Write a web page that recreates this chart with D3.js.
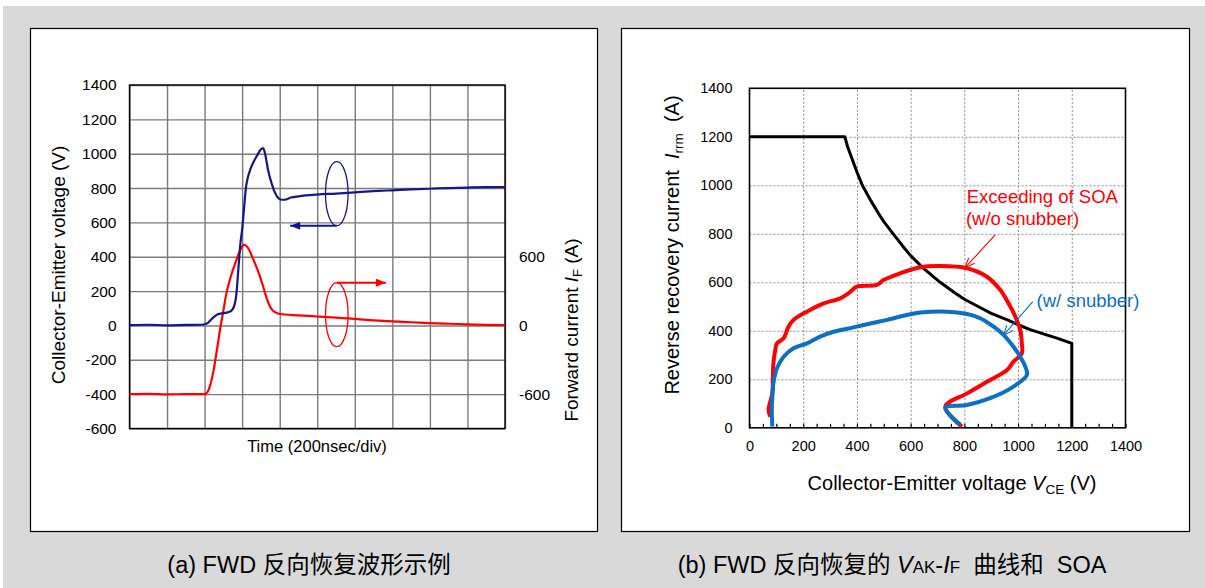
<!DOCTYPE html>
<html lang="zh">
<head>
<meta charset="UTF-8">
<title>FWD reverse recovery</title>
<script src="https://d3js.org/d3.v7.min.js"></script>
<style>
  body { margin: 0; background: #fff; }
  svg text { font-family: "Liberation Sans", Arial, "Noto Sans CJK SC", sans-serif; fill: #000; }
</style>
</head>
<body>
<div id="chart"></div>
<script>
// (a) waveforms, time in divisions (200 ns/div)
const vceTime = [0, 0.5, 1.0, 1.5, 1.9, 2.05, 2.2, 2.35, 2.5, 2.65, 2.75, 2.84, 2.9, 2.95, 3.0, 3.05, 3.1, 3.15, 3.22, 3.3, 3.4, 3.5, 3.56, 3.62, 3.69, 3.78, 3.87, 3.95, 4.05, 4.15, 4.3, 4.5, 4.7, 5.0, 5.5, 6.0, 6.5, 7.0, 7.5, 8.0, 8.5, 9.0, 9.5, 10];
const vceVolt = [2, 4, 1, 3, 4, 10, 40, 65, 72, 78, 95, 170, 330, 470, 560, 680, 800, 860, 910, 950, 990, 1025, 1032, 990, 905, 830, 775, 745, 732, 733, 745, 752, 757, 762, 768, 775, 782, 787, 792, 796, 800, 803, 805, 806];
const ifTime = [0, 0.5, 1.0, 1.5, 2.0, 2.08, 2.15, 2.24, 2.32, 2.41, 2.5, 2.58, 2.7, 2.85, 2.95, 3.05, 3.15, 3.3, 3.45, 3.56, 3.65, 3.74, 3.85, 4.0, 4.5, 5.0, 5.5, 6.0, 6.5, 7.0, 7.5, 8.0, 8.5, 9.0, 9.5, 10];
const ifAmp = [-600, -598, -602, -600, -600, -580, -520, -390, -230, -40, 130, 280, 430, 575, 660, 705, 680, 575, 450, 340, 240, 165, 120, 100, 88, 78, 68, 57, 45, 35, 28, 20, 15, 10, 5, 2];
const timeTicks = [0, 1, 2, 3, 4, 5, 6, 7, 8, 9, 10];
const voltTicks = [-600, -400, -200, 0, 200, 400, 600, 800, 1000, 1200, 1400];
const ampTicks = [-600, 0, 600];

// (b) trajectories, V (V) and I (A)
const soaV = [0, 355, 365, 380, 400, 420, 450, 480, 500, 535, 570, 600, 650, 710, 760, 800, 860, 900, 960, 1000, 1045, 1100, 1150, 1200, 1200];
const soaI = [1200, 1200, 1160, 1115, 1055, 1000, 940, 885, 850, 800, 750, 710, 655, 600, 560, 530, 495, 472, 445, 425, 405, 385, 368, 348, 0];
const noSnubV = [78, 71, 85, 87, 89, 96, 102, 127, 145, 164, 214, 276, 338, 369, 400, 474, 499, 561, 636, 710, 810, 884, 934, 971, 990, 1008, 1014, 1014, 983, 959, 896, 810, 729, 791];
const noSnubI = [46, 73, 142, 211, 266, 321, 348, 369, 417, 445, 479, 513, 534, 555, 582, 589, 609, 637, 662, 667, 658, 623, 568, 500, 458, 403, 348, 307, 273, 238, 197, 142, 87, 5];
const snubV = [85, 83, 85, 89, 102, 127, 164, 214, 263, 313, 387, 462, 512, 586, 636, 735, 810, 859, 909, 946, 983, 1008, 1027, 1033, 983, 896, 810, 729, 785];
const snubI = [5, 73, 128, 184, 245, 293, 328, 348, 376, 396, 414, 433, 445, 465, 475, 479, 469, 452, 417, 383, 334, 293, 252, 218, 170, 122, 94, 83, 12];
const vTicksB = [0, 200, 400, 600, 800, 1000, 1200, 1400];
const iTicksB = [0, 200, 400, 600, 800, 1000, 1200, 1400];
const minorTicksB = d3.range(0, 1401, 50);

const navy = '#16168a', red = '#ff0000', blue = '#0b70c4';
const plain = d => String(d);

const svg = d3.select('#chart').append('svg')
    .attr('width', 1205).attr('height', 588);

svg.append('rect').attr('x', 3).attr('y', 6).attr('width', 1202).attr('height', 582).attr('fill', '#d9d9d9');
svg.append('rect').attr('x', 30.5).attr('y', 28.5).attr('width', 567).attr('height', 503)
    .attr('fill', '#fff').attr('stroke', '#000').attr('stroke-width', 1.2);
svg.append('rect').attr('x', 621.5).attr('y', 28.5).attr('width', 568).attr('height', 503)
    .attr('fill', '#fff').attr('stroke', '#000').attr('stroke-width', 1.2);

// arrow heads
const defs = svg.append('defs');
function solidHead(id, color) {
    defs.append('marker').attr('id', id).attr('viewBox', '0 0 10 8')
        .attr('refX', 10).attr('refY', 4).attr('markerWidth', 11).attr('markerHeight', 8)
        .attr('markerUnits', 'userSpaceOnUse').attr('orient', 'auto')
        .append('path').attr('d', 'M0,0L10,4L0,8Z').attr('fill', color);
}
function openHead(id, color) {
    defs.append('marker').attr('id', id).attr('viewBox', '-1 -1 12 10')
        .attr('refX', 10).attr('refY', 4).attr('markerWidth', 12).attr('markerHeight', 10)
        .attr('markerUnits', 'userSpaceOnUse').attr('orient', 'auto')
        .append('path').attr('d', 'M0,0L10,4L0,8').attr('fill', 'none')
        .attr('stroke', color).attr('stroke-width', 1.1);
}
solidHead('headNavy', navy);
solidHead('headRed', red);
openHead('openRed', red);
openHead('openBlue', blue);

// ---------- (a) ----------
const xA = d3.scaleLinear().domain([0, 10]).range([129.5, 505]);
const yA = d3.scaleLinear().domain([-600, 1400]).range([428.5, 85]);
const yA2 = d3.scaleLinear().domain([-900, 2100]).range([428.5, 85]);
const gA = svg.append('g');

gA.append('g').attr('transform', 'translate(0,' + yA(-600) + ')')
    .call(d3.axisBottom(xA).tickValues(timeTicks).tickSize(yA(1400) - yA(-600)).tickFormat(''))
    .call(g => g.select('.domain').remove())
    .selectAll('line').attr('stroke', '#7a7a7a').attr('stroke-width', 1.4);
gA.append('g').attr('transform', 'translate(' + xA(0) + ',0)')
    .call(d3.axisLeft(yA).tickValues(voltTicks).tickSize(xA(0) - xA(10)).tickFormat(''))
    .call(g => g.select('.domain').remove())
    .selectAll('line').attr('stroke', '#7a7a7a').attr('stroke-width', 1.4);

gA.append('g').attr('transform', 'translate(' + xA(0) + ',0)')
    .call(d3.axisLeft(yA).tickValues(voltTicks).tickFormat(plain).tickSize(0).tickPadding(13))
    .call(g => g.select('.domain').remove())
    .selectAll('text').attr('font-size', 15.5).attr('font-family', 'Liberation Sans');
gA.append('g').attr('transform', 'translate(' + xA(10) + ',0)')
    .call(d3.axisRight(yA2).tickValues(ampTicks).tickFormat(plain).tickSize(0).tickPadding(14))
    .call(g => g.select('.domain').remove())
    .selectAll('text').attr('font-size', 15.5).attr('font-family', 'Liberation Sans');

gA.append('rect').attr('x', xA(0)).attr('y', yA(1400))
    .attr('width', xA(10) - xA(0)).attr('height', yA(-600) - yA(1400))
    .attr('fill', 'none').attr('stroke', '#000').attr('stroke-width', 1.4);

gA.append('path').datum(d3.zip(ifTime, ifAmp))
    .attr('d', d3.line().curve(d3.curveMonotoneX).x(d => xA(d[0])).y(d => yA2(d[1])))
    .attr('fill', 'none').attr('stroke', red).attr('stroke-width', 2.2).attr('stroke-linejoin', 'round');
gA.append('path').datum(d3.zip(vceTime, vceVolt))
    .attr('d', d3.line().curve(d3.curveMonotoneX).x(d => xA(d[0])).y(d => yA(d[1])))
    .attr('fill', 'none').attr('stroke', navy).attr('stroke-width', 2.2).attr('stroke-linejoin', 'round');

// curve markers: ellipse + arrow
gA.append('ellipse').attr('cx', xA(5.52)).attr('cy', yA(767)).attr('rx', 11.3).attr('ry', 32)
    .attr('fill', 'none').attr('stroke', navy).attr('stroke-width', 1.3);
gA.append('line').attr('x1', xA(5.52)).attr('y1', yA(580)).attr('x2', xA(4.28)).attr('y2', yA(580))
    .attr('stroke', navy).attr('stroke-width', 2).attr('marker-end', 'url(#headNavy)');
gA.append('ellipse').attr('cx', xA(5.52)).attr('cy', yA2(94)).attr('rx', 11.3).attr('ry', 32)
    .attr('fill', 'none').attr('stroke', red).attr('stroke-width', 1.3);
gA.append('line').attr('x1', xA(5.52)).attr('y1', yA2(374)).attr('x2', xA(6.83)).attr('y2', yA2(374))
    .attr('stroke', red).attr('stroke-width', 2).attr('marker-end', 'url(#headRed)');

gA.append('text').attr('x', 317).attr('y', 452).attr('text-anchor', 'middle')
    .attr('font-size', 16.5).text('Time (200nsec/div)');
gA.append('text').attr('transform', 'translate(65,265) rotate(-90)').attr('text-anchor', 'middle')
    .attr('font-size', 19).text('Collector-Emitter voltage (V)');
const fwdLabel = gA.append('text').attr('transform', 'translate(578,330) rotate(-90)')
    .attr('text-anchor', 'middle').attr('font-size', 19).style('white-space', 'pre');
fwdLabel.append('tspan').text('Forward current ');
fwdLabel.append('tspan').attr('font-style', 'italic').text('I');
fwdLabel.append('tspan').attr('font-size', 13).attr('dy', 4).text('F');
fwdLabel.append('tspan').attr('dy', -4).text(' (A)');

// ---------- (b) ----------
const xB = d3.scaleLinear().domain([0, 1400]).range([749.5, 1125.5]);
const yB = d3.scaleLinear().domain([0, 1400]).range([427.8, 88.3]);
const gB = svg.append('g');

gB.append('g').attr('transform', 'translate(0,' + yB(0) + ')')
    .call(d3.axisBottom(xB).tickValues(vTicksB.slice(1, -1)).tickSize(yB(1400) - yB(0)).tickFormat(''))
    .call(g => g.select('.domain').remove())
    .selectAll('line').attr('stroke', '#8a8a8a').attr('stroke-dasharray', '2,2');
gB.append('g').attr('transform', 'translate(' + xB(0) + ',0)')
    .call(d3.axisLeft(yB).tickValues(iTicksB.slice(1, -1)).tickSize(xB(0) - xB(1400)).tickFormat(''))
    .call(g => g.select('.domain').remove())
    .selectAll('line').attr('stroke', '#8a8a8a').attr('stroke-dasharray', '2,2');

gB.append('g').attr('transform', 'translate(0,' + yB(0) + ')')
    .call(d3.axisBottom(xB).tickValues(minorTicksB).tickSize(-4).tickFormat(''))
    .call(g => g.select('.domain').remove())
    .selectAll('line').attr('stroke', '#000').attr('stroke-width', 1.2);

gB.append('g').attr('transform', 'translate(0,' + yB(0) + ')')
    .call(d3.axisBottom(xB).tickValues(vTicksB).tickFormat(plain).tickSize(0).tickPadding(13))
    .call(g => g.select('.domain').remove())
    .selectAll('text').attr('font-size', 14.5).attr('font-family', 'Liberation Sans');
gB.append('g').attr('transform', 'translate(' + xB(0) + ',0)')
    .call(d3.axisLeft(yB).tickValues(iTicksB).tickFormat(plain).tickSize(0).tickPadding(17))
    .call(g => g.select('.domain').remove())
    .selectAll('text').attr('font-size', 14.5).attr('font-family', 'Liberation Sans');

gB.append('rect').attr('x', xB(0)).attr('y', yB(1400))
    .attr('width', xB(1400) - xB(0)).attr('height', yB(0) - yB(1400))
    .attr('fill', 'none').attr('stroke', '#000').attr('stroke-width', 1.6);

const lineB = d3.line().x(d => xB(d[0])).y(d => yB(d[1]));
const loopB = d3.line().curve(d3.curveCatmullRom.alpha(0.5)).x(d => xB(d[0])).y(d => yB(d[1]));
gB.append('path').datum(d3.zip(soaV, soaI)).attr('d', lineB)
    .attr('fill', 'none').attr('stroke', '#000').attr('stroke-width', 3).attr('stroke-linejoin', 'round');
gB.append('path').datum(d3.zip(noSnubV, noSnubI)).attr('d', loopB)
    .attr('fill', 'none').attr('stroke', red).attr('stroke-width', 4).attr('stroke-linejoin', 'round');
gB.append('path').datum(d3.zip(snubV, snubI)).attr('d', loopB)
    .attr('fill', 'none').attr('stroke', blue).attr('stroke-width', 4).attr('stroke-linejoin', 'round');

gB.append('text').attr('x', xB(809)).attr('y', yB(926)).attr('font-size', 18.5).style('fill', red)
    .text('Exceeding of SOA');
gB.append('text').attr('x', xB(806)).attr('y', yB(836)).attr('font-size', 18.5).style('fill', red)
    .text('(w/o snubber)');
gB.append('line').attr('x1', xB(914)).attr('y1', yB(795)).attr('x2', xB(802)).attr('y2', yB(659))
    .attr('stroke', red).attr('stroke-width', 1.1).attr('marker-end', 'url(#openRed)');
gB.append('text').attr('x', xB(1069)).attr('y', yB(499)).attr('font-size', 18.5).style('fill', blue)
    .text('(w/ snubber)');
gB.append('line').attr('x1', xB(1055)).attr('y1', yB(520)).attr('x2', xB(945)).attr('y2', yB(381))
    .attr('stroke', blue).attr('stroke-width', 1.1).attr('marker-end', 'url(#openBlue)');

const xTitle = gB.append('text').attr('x', 952).attr('y', 490).attr('text-anchor', 'middle')
    .attr('font-size', 20).style('white-space', 'pre');
xTitle.append('tspan').text('Collector-Emitter voltage ');
xTitle.append('tspan').attr('font-style', 'italic').text('V');
xTitle.append('tspan').attr('font-size', 13.5).attr('dy', 4).text('CE');
xTitle.append('tspan').attr('dy', -4).text(' (V)');

const yTitle = gB.append('text').attr('transform', 'translate(679,245) rotate(-90)')
    .attr('text-anchor', 'middle').attr('font-size', 20).style('white-space', 'pre');
yTitle.append('tspan').text('Reverse recovery current  ');
yTitle.append('tspan').attr('font-style', 'italic').text('I');
yTitle.append('tspan').attr('font-size', 13.5).attr('dy', 4).text('rrm');
yTitle.append('tspan').attr('dy', -4).text('  (A)');

// captions
svg.append('text').attr('x', 309).attr('y', 573).attr('text-anchor', 'middle')
    .attr('font-size', 23.5).text('(a) FWD 反向恢复波形示例');
const capB = svg.append('text').attr('x', 892).attr('y', 573).attr('text-anchor', 'middle')
    .attr('font-size', 23.5).style('white-space', 'pre');
capB.append('tspan').text('(b) FWD 反向恢复的 ');
capB.append('tspan').attr('font-style', 'italic').text('V');
capB.append('tspan').attr('font-size', 17).text('AK');
capB.append('tspan').text('-');
capB.append('tspan').attr('font-style', 'italic').text('I');
capB.append('tspan').attr('font-size', 17).text('F');
capB.append('tspan').text('  曲线和  SOA');
</script>
</body>
</html>
